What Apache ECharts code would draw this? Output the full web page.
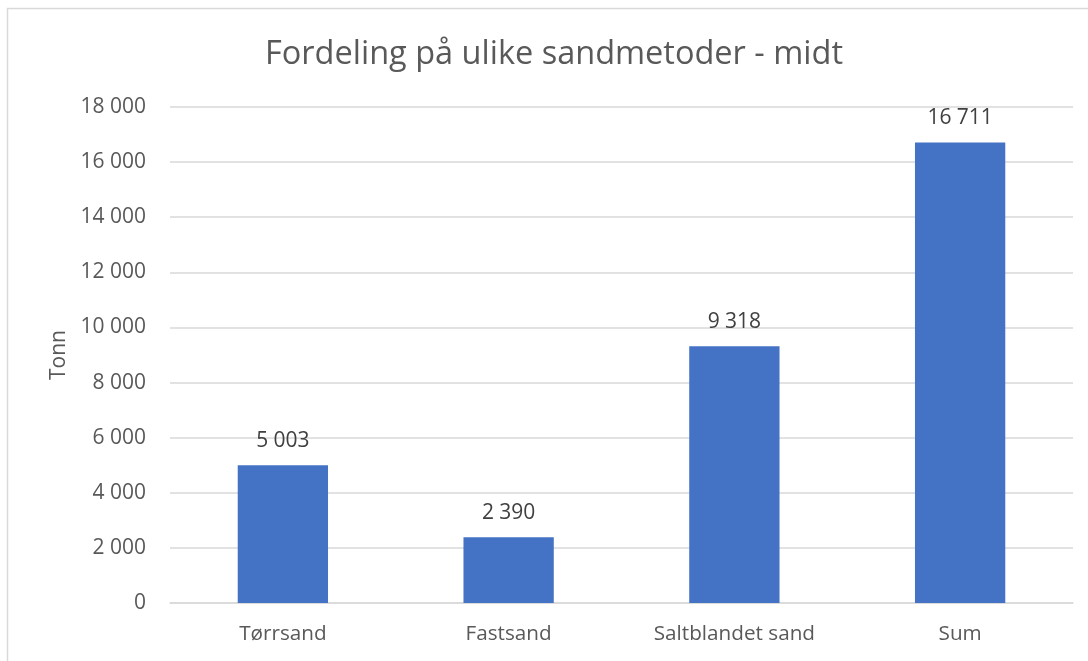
<!DOCTYPE html>
<html><head><meta charset="utf-8">
<script src="https://cdn.jsdelivr.net/npm/echarts@6/dist/echarts.min.js"></script>
<style>html,body{margin:0;padding:0;background:#fff}#c{width:1088px;height:661px}</style>
</head><body><div id="c"></div>
<script>
const categories = ['Tørrsand', 'Fastsand', 'Saltblandet sand', 'Sum'];
const values = [5003, 2390, 9318, 16711];
const titleText = 'Fordeling på ulike sandmetoder - midt';
const yName = 'Tonn';
const FONT = '"Open Sans", sans-serif';
function fmt(v){ return String(Math.round(v)).replace(/\B(?=(\d{3})+(?!\d))/g, ' '); }
const chart = echarts.init(document.getElementById('c'), null, {renderer:'canvas'});
chart.setOption({
  animation:false,
  backgroundColor:'#fff',
  graphic:[{type:'rect', shape:{x:7.5,y:8.5,width:1200,height:800}, style:{fill:'none', stroke:'#d9d9d9', lineWidth:1.5}, silent:true}],
  title:{text:titleText, left:549, top:33, textAlign:'center',
    textStyle:{fontFamily:FONT, fontSize:32.5, fontWeight:'normal', color:'#595959'}},
  grid:{left:170, right:15, top:107, bottom:58, containLabel:false},
  xAxis:{type:'category', data:categories,
    axisLine:{show:true, lineStyle:{color:'#d9d9d9', width:1.5}},
    axisTick:{show:false},
    axisLabel:{fontFamily:FONT, fontSize:20.7, color:'#595959', margin:21}},
  yAxis:{type:'value', min:0, max:18000, interval:2000,
    name:yName, nameLocation:'middle', nameGap:100, nameRotate:90,
    nameTextStyle:{fontFamily:FONT, fontSize:21, color:'#595959'},
    axisLine:{show:false}, axisTick:{show:false},
    splitLine:{lineStyle:{color:'#d9d9d9', width:1.5}},
    axisLabel:{fontFamily:FONT, fontSize:21, color:'#595959', margin:24, formatter:fmt}},
  series:[{type:'bar', data:values, barWidth:'40%',
    itemStyle:{color:'#4472C4'},
    label:{show:true, position:'top', distance:14, fontFamily:FONT, fontSize:21, color:'#404040', formatter:p=>fmt(p.value)}}]
});
</script></body></html>
